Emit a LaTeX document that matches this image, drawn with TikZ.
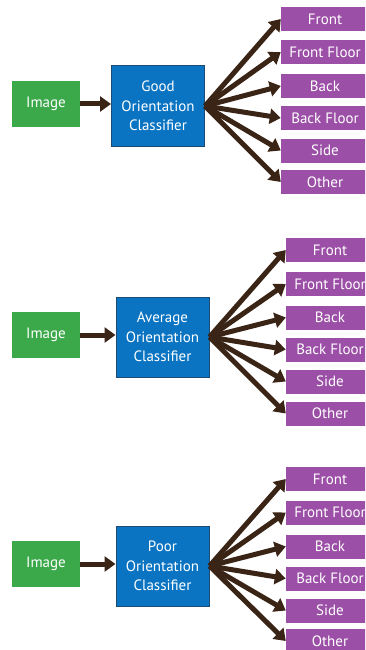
\documentclass[tikz,border=0pt]{standalone}
\usepackage{fontspec}
\setmainfont{PT Sans}
\usetikzlibrary{arrows.meta}
\definecolor{imggreen}{HTML}{3BA84A}
\definecolor{clfblue}{HTML}{0A74C2}
\definecolor{clfedge}{HTML}{1E4B73}
\definecolor{catpurple}{HTML}{9C4FA6}
\definecolor{arrowbrown}{HTML}{3A2416}

\begin{document}
\begin{tikzpicture}[x=1pt,y=-1pt,
   imgbox/.style={fill=imggreen,text=white,minimum width=68pt,minimum height=46pt,inner sep=0pt,font=\fontsize{15}{19.5}\selectfont},
   clfbox/.style={fill=clfblue,draw=clfedge,line width=1pt,text=white,align=center,minimum width=93pt,minimum height=80pt,inner sep=0pt,font=\fontsize{15}{19.5}\selectfont},
   catbox/.style={fill=catpurple,text=white,minimum width=88pt,minimum height=24pt,inner sep=0pt,font=\fontsize{15}{19.5}\selectfont},
   flow/.style={draw=arrowbrown,line width=5pt,-{Triangle[length=11pt,width=15pt]}}]
   \clip (0,0) rectangle (365,650);
   \fill[white] (0,0) rectangle (365,650);
   % good classifier
   \node[imgbox] (imga) at (46,104) {Image};
   \node[clfbox] (clfa) at (158,106) {Good\\Orientation\\Classifier};
   \draw[flow] (imga.east) -- (imga.east -| clfa.west);
   \foreach \lbl/\yy [count=\i] in {Front/19,Front Floor/52,Back/86,Back Floor/118,Side/150.5,Other/182}
     \node[catbox] (a\i) at (325,\yy) {\lbl};
   \foreach \i in {1,...,6}
     \draw[flow] (clfa.east) -- (a\i.west);
   % average classifier
   \node[imgbox] (imgb) at (46,335) {Image};
   \node[clfbox] (clfb) at (162.5,337) {Average\\Orientation\\Classifier};
   \draw[flow] (imgb.east) -- (imgb.east -| clfb.west);
   \foreach \lbl/\yy [count=\i] in {Front/250,Front Floor/284,Back/317.5,Back Floor/349.5,Side/381.5,Other/413.5}
     \node[catbox] (b\i) at (330,\yy) {\lbl};
   \foreach \i in {1,...,6}
     \draw[flow] (clfb.east) -- (b\i.west);
   % poor classifier
   \node[imgbox] (imgc) at (46,564) {Image};
   \node[clfbox] (clfc) at (162.5,566) {Poor\\Orientation\\Classifier};
   \draw[flow] (imgc.east) -- (imgc.east -| clfc.west);
   \foreach \lbl/\yy [count=\i] in {Front/479,Front Floor/512.5,Back/546.5,Back Floor/578.5,Side/610.5,Other/641}
     \node[catbox] (c\i) at (330,\yy) {\lbl};
   \foreach \i in {1,...,6}
     \draw[flow] (clfc.east) -- (c\i.west);
\end{tikzpicture}
\end{document}
